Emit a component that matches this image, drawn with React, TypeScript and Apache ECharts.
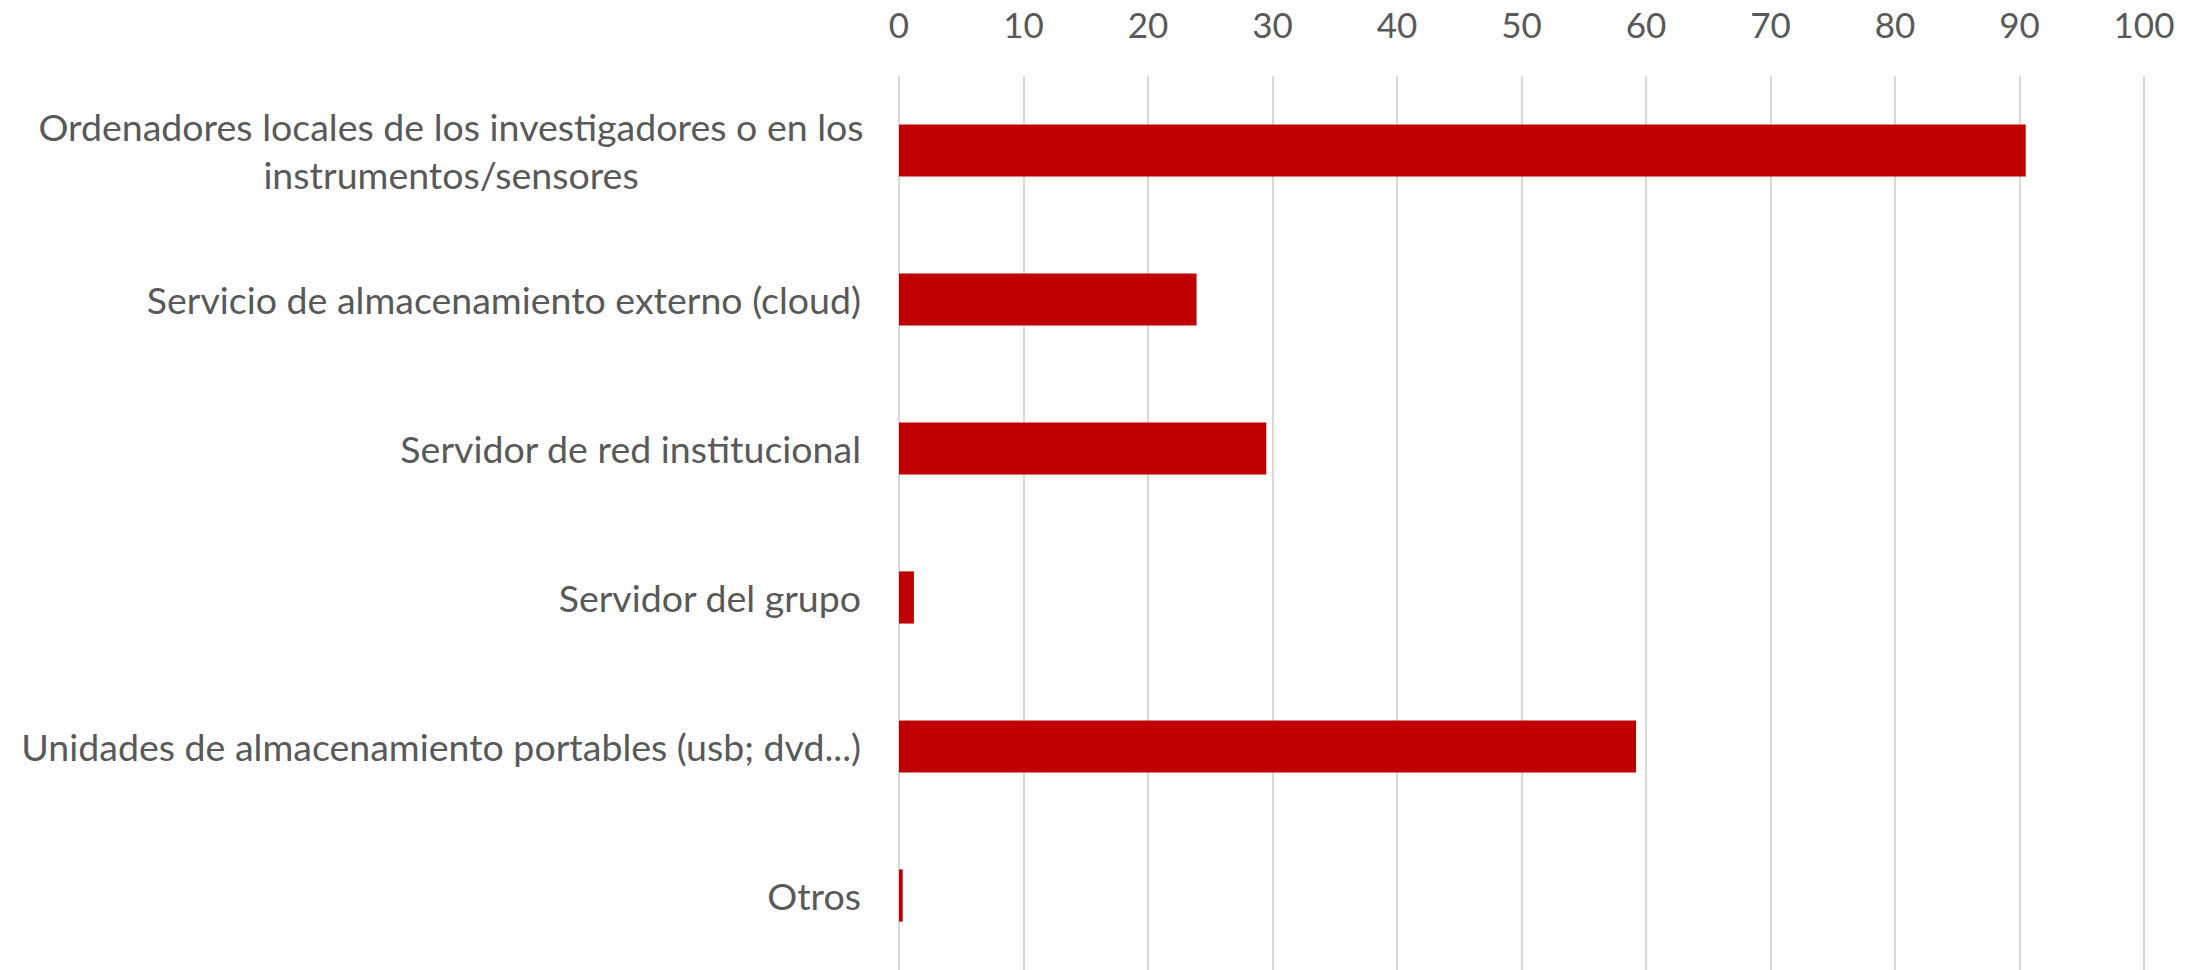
import React, { useEffect, useRef } from "react";
import * as echarts from "echarts";

const categories = [
  "Ordenadores locales de los investigadores o en los\ninstrumentos/sensores",
  "Servicio de almacenamiento externo (cloud)",
  "Servidor de red institucional",
  "Servidor del grupo",
  "Unidades de almacenamiento portables (usb; dvd...)",
  "Otros",
];
const values = [90.5, 23.9, 29.5, 1.2, 59.2, 0.3];
const axisMin = 0;
const axisMax = 100;
const axisStep = 10;

const FONT = "Lato";
const TEXT_COLOR = "#595959";
const LABEL_SIZE = 37.5;

export default function App() {
  const ref = useRef<HTMLDivElement>(null);
  useEffect(() => {
    document.body.style.margin = "0";
    if (!ref.current) return;
    const chart = echarts.init(ref.current, undefined, { renderer: "svg" });
    chart.setOption({
      animation: false,
      backgroundColor: "#ffffff",
      grid: { left: 899, right: 58, top: 76, bottom: -3, containLabel: false },
      xAxis: {
        type: "value",
        position: "top",
        min: axisMin,
        max: axisMax,
        interval: axisStep,
        axisLine: { show: false },
        axisTick: { show: false },
        axisLabel: {
          color: TEXT_COLOR,
          fontFamily: FONT,
          fontSize: 35,
          margin: 35,
        },
        splitLine: { show: true, lineStyle: { color: "#d9d9d9", width: 2 } },
      },
      yAxis: {
        type: "category",
        inverse: true,
        data: categories,
        axisLine: { show: false },
        axisTick: { show: false },
        splitLine: { show: false },
        axisLabel: {
          color: TEXT_COLOR,
          fontFamily: FONT,
          fontSize: LABEL_SIZE,
          margin: 38,
          lineHeight: 48,
          formatter: (v: string) => {
            if (v.indexOf("\n") >= 0) {
              return v
                .split("\n")
                .map((l) => "{c|" + l + "}")
                .join("\n");
            }
            return v;
          },
          rich: {
            c: {
              width: 820,
              align: "center",
              color: TEXT_COLOR,
              fontFamily: FONT,
              fontSize: LABEL_SIZE,
              lineHeight: 48,
            },
          },
        },
      },
      series: [
        {
          type: "bar",
          data: values,
          barWidth: "35%",
          itemStyle: { color: "#c00000" },
        },
      ],
    });
    return () => chart.dispose();
  }, []);
  return <div ref={ref} style={{ width: 2202, height: 970 }} />;
}
